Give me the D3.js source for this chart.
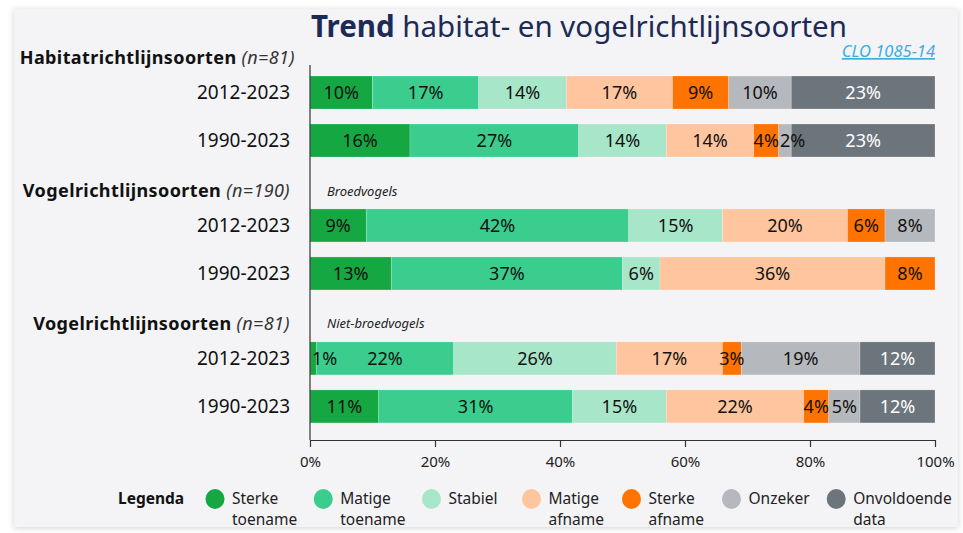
<!DOCTYPE html>
<html>
<head>
<meta charset="utf-8">
<script src="https://cdn.jsdelivr.net/npm/d3@7"></script>
<style>
  html, body { margin: 0; padding: 0; background: #fff; }
  svg { display: block; font-family: "Noto Sans", sans-serif; }
</style>
</head>
<body>
<svg id="chart" width="963" height="533"></svg>
<script>
'use strict';

// categories / legend
var categories = ['Sterke toename', 'Matige toename', 'Stabiel', 'Matige afname', 'Sterke afname', 'Onzeker', 'Onvoldoende data'];
var legendLines = [['Sterke', 'toename'], ['Matige', 'toename'], ['Stabiel'], ['Matige', 'afname'], ['Sterke', 'afname'], ['Onzeker'], ['Onvoldoende', 'data']];
var colors = ['#15a842', '#3acd8e', '#a8e6c9', '#ffc59e', '#ff7300', '#b5b9bd', '#6c757c'];

// groups
var groupNames = ['Habitatrichtlijnsoorten', 'Vogelrichtlijnsoorten', 'Vogelrichtlijnsoorten'];
var groupCounts = ['(n=81)', '(n=190)', '(n=81)'];
var groupSubtitles = ['', 'Broedvogels', 'Niet-broedvogels'];

// rows
var rowPeriods = ['2012-2023', '1990-2023', '2012-2023', '1990-2023', '2012-2023', '1990-2023'];
var rowGroups = [0, 0, 1, 1, 2, 2];
var rowValues = [
  [10, 17, 14, 17, 9, 10, 23],
  [16, 27, 14, 14, 4, 2, 23],
  [9, 42, 15, 20, 6, 8, 0],
  [13, 37, 6, 36, 8, 0, 0],
  [1, 22, 26, 17, 3, 19, 12],
  [11, 31, 15, 22, 4, 5, 12]
];

var xTicks = [0, 20, 40, 60, 80, 100];

var svg = d3.select('#chart');

// panel with soft shadow
var defs = svg.append('defs');
var f = defs.append('filter').attr('id', 'shadow')
  .attr('x', '-5%').attr('y', '-5%').attr('width', '110%').attr('height', '110%');
f.append('feDropShadow').attr('dx', 0).attr('dy', 1).attr('stdDeviation', 3)
  .attr('flood-color', '#000').attr('flood-opacity', 0.18);

svg.append('rect')
  .attr('x', 14).attr('y', 9).attr('width', 944).attr('height', 518)
  .attr('fill', '#f4f4f7')
  .attr('filter', 'url(#shadow)');

var x = d3.scaleLinear().domain([0, 100]).range([310, 935]);

// row position index, with an extra gap before each new group
var groupGap = 0.77;
var rowPos = rowGroups.map(function (g, i) { return i + g * groupGap; });
var y = d3.scaleLinear().domain([0, 1]).range([76, 124]);
var barH = 33;

// title
var title = svg.append('text')
  .attr('x', 311).attr('y', 37)
  .attr('fill', '#1c2b55')
  .attr('font-size', '29.5px');
title.append('tspan').attr('font-weight', 'bold').text('Trend');
title.append('tspan').text(' habitat- en vogelrichtlijnsoorten');

svg.append('text')
  .attr('x', 935).attr('y', 57)
  .attr('text-anchor', 'end')
  .attr('fill', '#3aaee0')
  .attr('font-size', '16.5px')
  .attr('font-style', 'italic')
  .attr('text-decoration', 'underline')
  .text('CLO 1085-14');

// group headers
var groupFirstRow = groupNames.map(function (g, i) { return rowGroups.indexOf(i); });

groupNames.forEach(function (name, i) {
  var yy = y(rowPos[groupFirstRow[i]]) - 18;
  var t = svg.append('text')
    .attr('x', i === 0 ? 295 : 290)
    .attr('y', yy)
    .attr('dy', '0.35em')
    .attr('text-anchor', 'end')
    .attr('fill', '#111')
    .attr('font-size', '18px')
    .attr('letter-spacing', '0.4px');
  t.append('tspan').attr('font-weight', 'bold').text(name + ' ');
  t.append('tspan').attr('font-style', 'italic').attr('fill', '#333').text(groupCounts[i]);

  if (groupSubtitles[i]) {
    svg.append('text')
      .attr('x', 327).attr('y', yy)
      .attr('dy', '0.35em')
      .attr('fill', '#222')
      .attr('font-size', '13px')
      .attr('font-style', 'italic')
      .text(groupSubtitles[i]);
  }
});

// rows
var rows = svg.selectAll('g.row')
  .data(rowValues)
  .enter().append('g')
  .attr('class', 'row')
  .attr('transform', function (d, i) { return 'translate(0,' + y(rowPos[i]) + ')'; });

rows.append('text')
  .attr('x', 290)
  .attr('y', barH / 2)
  .attr('dy', '0.35em')
  .attr('text-anchor', 'end')
  .attr('fill', '#111')
  .attr('font-size', '19px')
  .text(function (d, i) { return rowPeriods[i]; });

function stackRow(vals) {
  var acc = 0;
  return vals.map(function (v, k) {
    var s = { k: k, v: v, x0: acc, x1: acc + v };
    acc += v;
    return s;
  }).filter(function (s) { return s.v > 0; });
}

rows.selectAll('rect.seg')
  .data(function (d) { return stackRow(d); })
  .enter().append('rect')
  .attr('class', 'seg')
  .attr('x', function (s) { return x(s.x0); })
  .attr('width', function (s) { return x(s.x1) - x(s.x0); })
  .attr('height', barH)
  .attr('fill', function (s) { return colors[s.k]; })
  .attr('stroke', 'rgba(255,255,255,0.35)')
  .attr('stroke-width', 0.6);

// labels: centered, nudged right if they would collide
rows.each(function (d) {
  var g = d3.select(this);
  var segs = stackRow(d);
  var prevRight = x(0) + 2;
  segs.forEach(function (s) {
    var t = g.append('text')
      .attr('y', barH / 2)
      .attr('dy', '0.35em')
      .attr('text-anchor', 'middle')
      .attr('font-size', '18px')
      .attr('fill', s.k === 6 ? '#fff' : '#111')
      .text(s.v + '%');
    var w = t.node().getComputedTextLength();
    var cx = (x(s.x0) + x(s.x1)) / 2;
    if (cx - w / 2 < prevRight) cx = prevRight + w / 2;
    t.attr('x', cx);
    prevRight = cx + w / 2 + 1;
  });
});

// axes
var axisY = 440;
svg.append('line')
  .attr('x1', x(0)).attr('x2', x(0))
  .attr('y1', 65).attr('y2', axisY)
  .attr('stroke', '#333').attr('stroke-width', 1.2);

var ax = svg.append('g')
  .attr('transform', 'translate(0,' + axisY + ')')
  .call(d3.axisBottom(x).tickValues(xTicks).tickSize(7).tickSizeOuter(0).tickPadding(9)
    .tickFormat(function (d) { return d + '%'; }));
ax.select('.domain').attr('stroke', '#333').attr('stroke-width', 1.2);
ax.selectAll('.tick line').attr('stroke', '#333').attr('stroke-width', 1.2);
ax.selectAll('.tick text')
  .attr('font-family', '"Noto Sans", sans-serif')
  .attr('font-size', '15px')
  .attr('fill', '#222');

// legend
var legY = 499;
var legend = svg.append('g').attr('font-size', '15.5px').attr('fill', '#222');
legend.append('text')
  .attr('x', 118).attr('y', legY)
  .attr('dy', '0.35em')
  .attr('font-weight', 'bold')
  .attr('fill', '#111')
  .text('Legenda');

var lx = 215;
categories.forEach(function (c, k) {
  var item = legend.append('g');
  item.append('ellipse')
    .attr('cx', lx).attr('cy', legY)
    .attr('rx', 9.5).attr('ry', 10)
    .attr('fill', colors[k]);
  var t = item.append('text')
    .attr('x', lx + 17).attr('y', legY);
  legendLines[k].forEach(function (line, j) {
    t.append('tspan')
      .attr('x', lx + 17)
      .attr('dy', j === 0 ? '0.35em' : '21px')
      .text(line);
  });
  var w = t.node().getBBox().width;
  lx += Math.max(17 + w + 26, 100);
});
</script>
</body>
</html>
